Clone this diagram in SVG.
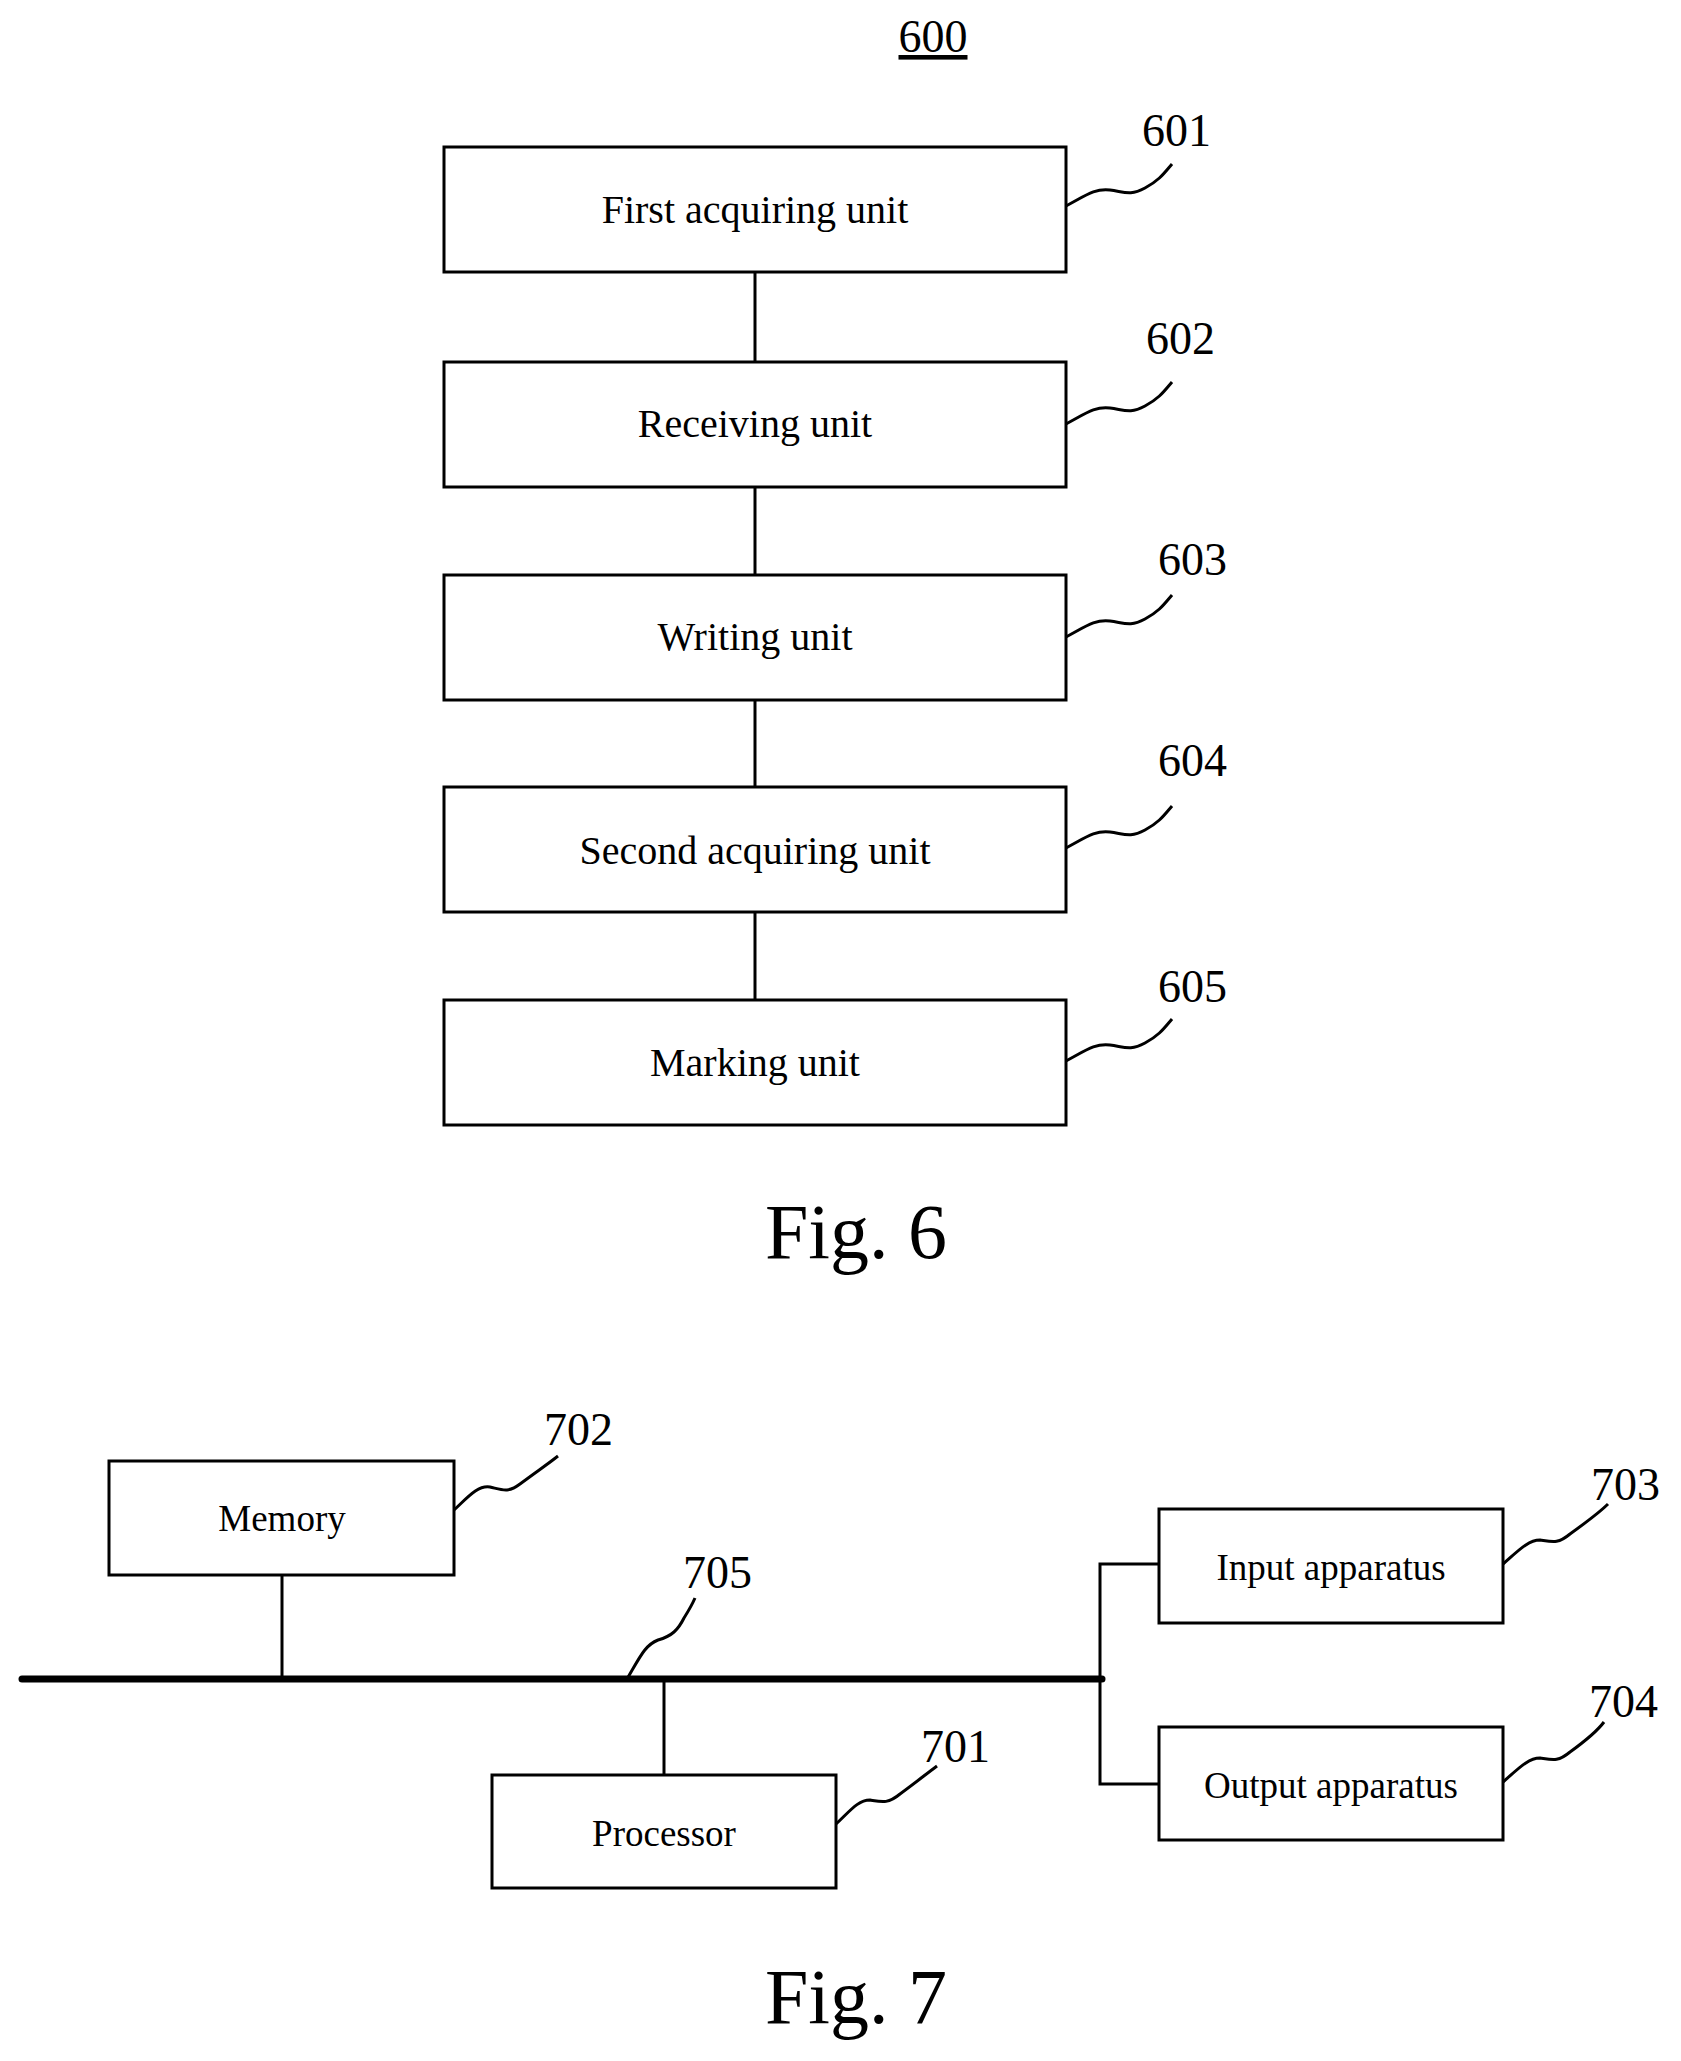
<svg xmlns="http://www.w3.org/2000/svg" width="1681" height="2061" viewBox="0 0 1681 2061">
<style>
.b{fill:#fff;stroke:#000;stroke-width:3}
.t{font-family:"Liberation Serif",serif;font-size:40px;text-anchor:middle;fill:#000}
.t7{font-family:"Liberation Serif",serif;font-size:37px;text-anchor:middle;fill:#000}
.n{font-family:"Liberation Serif",serif;font-size:46px;fill:#000}
.f{font-family:"Liberation Serif",serif;font-size:78px;text-anchor:middle;fill:#000}
.w{fill:none;stroke:#000;stroke-width:3}
.c{stroke:#000;stroke-width:3;fill:none}
</style>
<text class="n" x="933" y="52" text-anchor="middle" text-decoration="underline">600</text>
<g id="connectors">
<line class="c" x1="755" y1="272" x2="755" y2="362"/>
<line class="c" x1="755" y1="487" x2="755" y2="575"/>
<line class="c" x1="755" y1="700" x2="755" y2="787"/>
<line class="c" x1="755" y1="912" x2="755" y2="1000"/>
<line x1="22" y1="1679" x2="1102" y2="1679" stroke="#000" stroke-width="7" stroke-linecap="round"/>
<line class="c" x1="282" y1="1575" x2="282" y2="1679"/>
<line class="c" x1="664" y1="1679" x2="664" y2="1775"/>
<polyline class="c" points="1159,1564 1100,1564 1100,1784 1159,1784"/>
</g>
<g id="n601"><rect class="b" x="444" y="147" width="622" height="125"/><text class="t" x="755" y="223">First acquiring unit</text>
<path class="w" d="M1066,206 C1085,196 1095,188 1110,190 C1125,192 1130,196 1145,188 C1160,180 1165,172 1172,164"/><text class="n" x="1142" y="146">601</text></g>
<g id="n602"><rect class="b" x="444" y="362" width="622" height="125"/><text class="t" x="755" y="437">Receiving unit</text>
<path class="w" d="M1066,424 C1085,414 1095,406 1110,408 C1125,410 1130,414 1145,406 C1160,398 1165,390 1172,382"/><text class="n" x="1146" y="354">602</text></g>
<g id="n603"><rect class="b" x="444" y="575" width="622" height="125"/><text class="t" x="755" y="650">Writing unit</text>
<path class="w" d="M1066,637 C1085,627 1095,619 1110,621 C1125,623 1130,627 1145,619 C1160,611 1165,603 1172,595"/><text class="n" x="1158" y="575">603</text></g>
<g id="n604"><rect class="b" x="444" y="787" width="622" height="125"/><text class="t" x="755" y="864">Second acquiring unit</text>
<path class="w" d="M1066,848 C1085,838 1095,830 1110,832 C1125,834 1130,838 1145,830 C1160,822 1165,814 1172,806"/><text class="n" x="1158" y="776">604</text></g>
<g id="n605"><rect class="b" x="444" y="1000" width="622" height="125"/><text class="t" x="755" y="1076">Marking unit</text>
<path class="w" d="M1066,1061 C1085,1051 1095,1043 1110,1045 C1125,1047 1130,1051 1145,1043 C1160,1035 1165,1027 1172,1019"/><text class="n" x="1158" y="1002">605</text></g>
<text class="f" x="856" y="1258">Fig. 6</text>
<g id="n702"><rect class="b" x="109" y="1461" width="345" height="114"/><text class="t7" x="282" y="1531">Memory</text>
<path class="w" d="M454,1510 C468,1497 478,1485 490,1487 C503,1490 508,1493 520,1484 C536,1472 548,1464 558,1456"/><text class="n" x="544" y="1445">702</text></g>
<g id="n705"><path class="w" d="M627,1679 C640,1657 645,1645 658,1640 C672,1636 678,1630 684,1618 C689,1610 692,1605 695,1598"/><text class="n" x="683" y="1588">705</text></g>
<g id="n701"><rect class="b" x="492" y="1775" width="344" height="113"/><text class="t7" x="664" y="1846">Processor</text>
<path class="w" d="M836,1824 C850,1811 858,1800 870,1800 C882,1802 888,1804 900,1794 C915,1783 925,1775 937,1766"/><text class="n" x="921" y="1762">701</text></g>
<g id="n703"><rect class="b" x="1159" y="1509" width="344" height="114"/><text class="t7" x="1331" y="1580">Input apparatus</text>
<path class="w" d="M1503,1564 C1518,1551 1528,1540 1540,1540 C1553,1542 1558,1544 1570,1534 C1588,1521 1600,1512 1608,1504"/><text class="n" x="1591" y="1500">703</text></g>
<g id="n704"><rect class="b" x="1159" y="1727" width="344" height="113"/><text class="t7" x="1331" y="1798">Output apparatus</text>
<path class="w" d="M1503,1782 C1518,1769 1528,1758 1540,1758 C1553,1760 1558,1762 1570,1752 C1588,1739 1598,1730 1604,1722"/><text class="n" x="1589" y="1717">704</text></g>
<text class="f" x="856" y="2023">Fig. 7</text>
</svg>
